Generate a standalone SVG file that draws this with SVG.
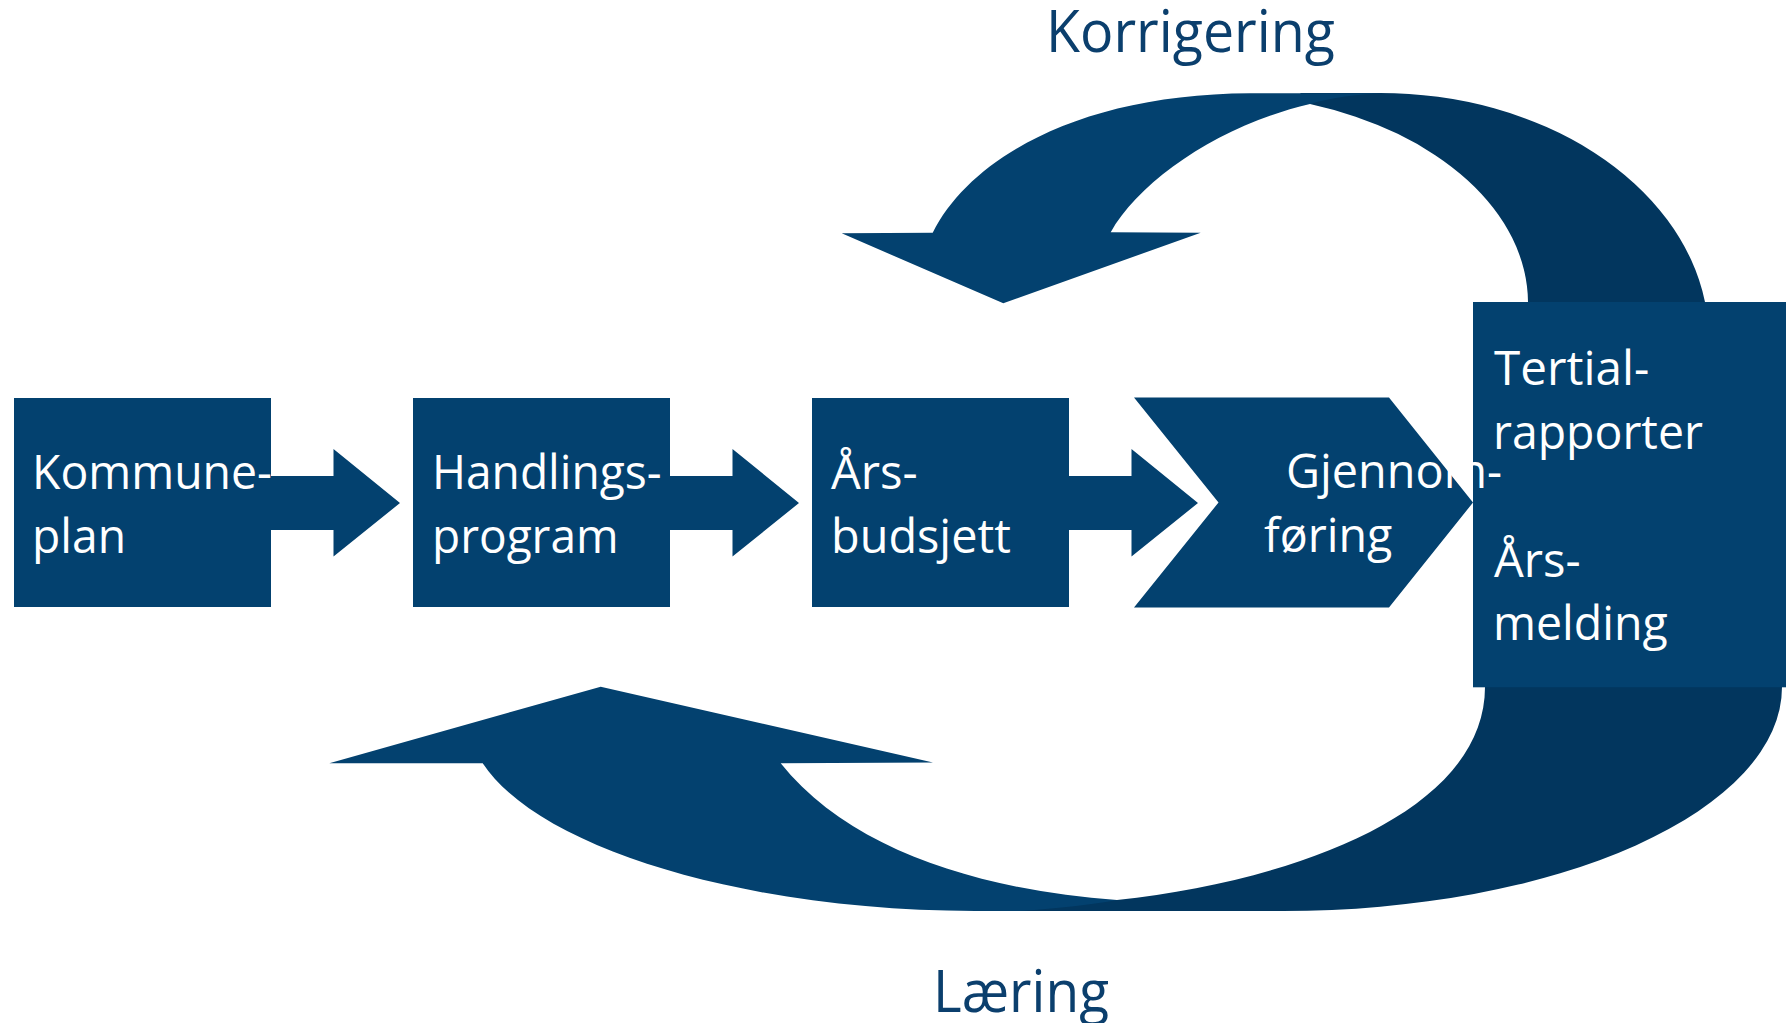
<svg xmlns="http://www.w3.org/2000/svg" width="1786" height="1023" viewBox="0 0 1786 1023">
<defs>
<style>
.f{fill:#03416f}
.d{fill:#02365e}
.t{font-family:"Open Sans","Noto Sans","Liberation Sans",sans-serif;font-size:48px;fill:#ffffff}
.h{font-family:"Open Sans","Noto Sans","Liberation Sans",sans-serif;font-size:58px;fill:#0b3f6d}
</style>
</defs>
<rect width="1786" height="1023" fill="#ffffff"/>
<g id="connectors">
  <g id="korrigering-loop">
    <path class="d" d="M1310,104 A319,210 0 0 1 1528,302 L1528,306 L1705,306 L1705,302 A329,247 0 0 0 1380,93 L1300,93 Z"/>
    <path class="f" d="M932.7,232.7 C972,155 1085,94 1250,93.3 L1385,93.3 Q1340,95 1310,104 C1220,125 1140,180 1110.7,232.3 L1200.7,232.7 L1003.3,303.3 L841.7,233.3 Z"/>
    <text class="h" x="1046" y="52" textLength="289" lengthAdjust="spacingAndGlyphs">Korrigering</text>
  </g>
  <g id="laering-loop">
    <path class="f" d="M329.3,763.3 L600.7,686.7 L933,762.5 L780.7,763.3 C850,850 980,890 1117,900 L1117,911 L975,911 C750,911 540,850 482.7,763.3 Z"/>
    <path class="d" d="M1485,683 L1782,683 L1782,687 A499,224 0 0 1 1283,911 L1020,911 Q1080,907 1117,900 C1300,880 1485,810 1485,687 Z"/>
    <text class="h" x="933" y="1012" textLength="176" lengthAdjust="spacingAndGlyphs">Læring</text>
  </g>
  <polygon class="f" points="265,476 333.5,476 333.5,449 400,503 333.5,556.5 333.5,530 265,530"/>
  <polygon class="f" points="664,476 732.5,476 732.5,449 799,503 732.5,556.5 732.5,530 664,530"/>
  <polygon class="f" points="1063,476 1131.5,476 1131.5,449 1198,503 1131.5,556.5 1131.5,530 1063,530"/>
</g>
<g id="kommuneplan">
  <rect class="f" x="14" y="398" width="257" height="209"/>
  <text class="t" x="32" y="488.5" textLength="240" lengthAdjust="spacingAndGlyphs">Kommune-</text>
  <text class="t" x="32" y="552.7" textLength="94" lengthAdjust="spacingAndGlyphs">plan</text>
</g>
<g id="handlingsprogram">
  <rect class="f" x="413" y="398" width="257" height="209"/>
  <text class="t" x="432" y="488.5" textLength="229.5" lengthAdjust="spacingAndGlyphs">Handlings-</text>
  <text class="t" x="432" y="552.7" textLength="186.6" lengthAdjust="spacingAndGlyphs">program</text>
</g>
<g id="arsbudsjett">
  <rect class="f" x="812" y="398" width="257" height="209"/>
  <text class="t" x="831" y="488.5" textLength="86.7" lengthAdjust="spacingAndGlyphs">Års-</text>
  <text class="t" x="831" y="552.7" textLength="179.9" lengthAdjust="spacingAndGlyphs">budsjett</text>
</g>
<g id="tertialrapporter-arsmelding">
  <rect class="f" x="1473" y="302" width="313" height="385.3"/>
  <text class="t" x="1494" y="385" textLength="155.3" lengthAdjust="spacingAndGlyphs">Tertial-</text>
  <text class="t" x="1493" y="448.5" textLength="209.9" lengthAdjust="spacingAndGlyphs">rapporter</text>
  <text class="t" x="1494" y="576.7" textLength="86.7" lengthAdjust="spacingAndGlyphs">Års-</text>
  <text class="t" x="1493" y="640" textLength="174.7" lengthAdjust="spacingAndGlyphs">melding</text>
</g>
<g id="gjennomforing">
  <polygon class="f" points="1134,397.5 1389,397.5 1473,502.5 1389,607.5 1134,607.5 1218.5,502.5"/>
  <text class="t" x="1286" y="488" textLength="216" lengthAdjust="spacingAndGlyphs">Gjennom-</text>
  <text class="t" x="1264" y="552" textLength="128.3" lengthAdjust="spacingAndGlyphs">føring</text>
</g>
</svg>
